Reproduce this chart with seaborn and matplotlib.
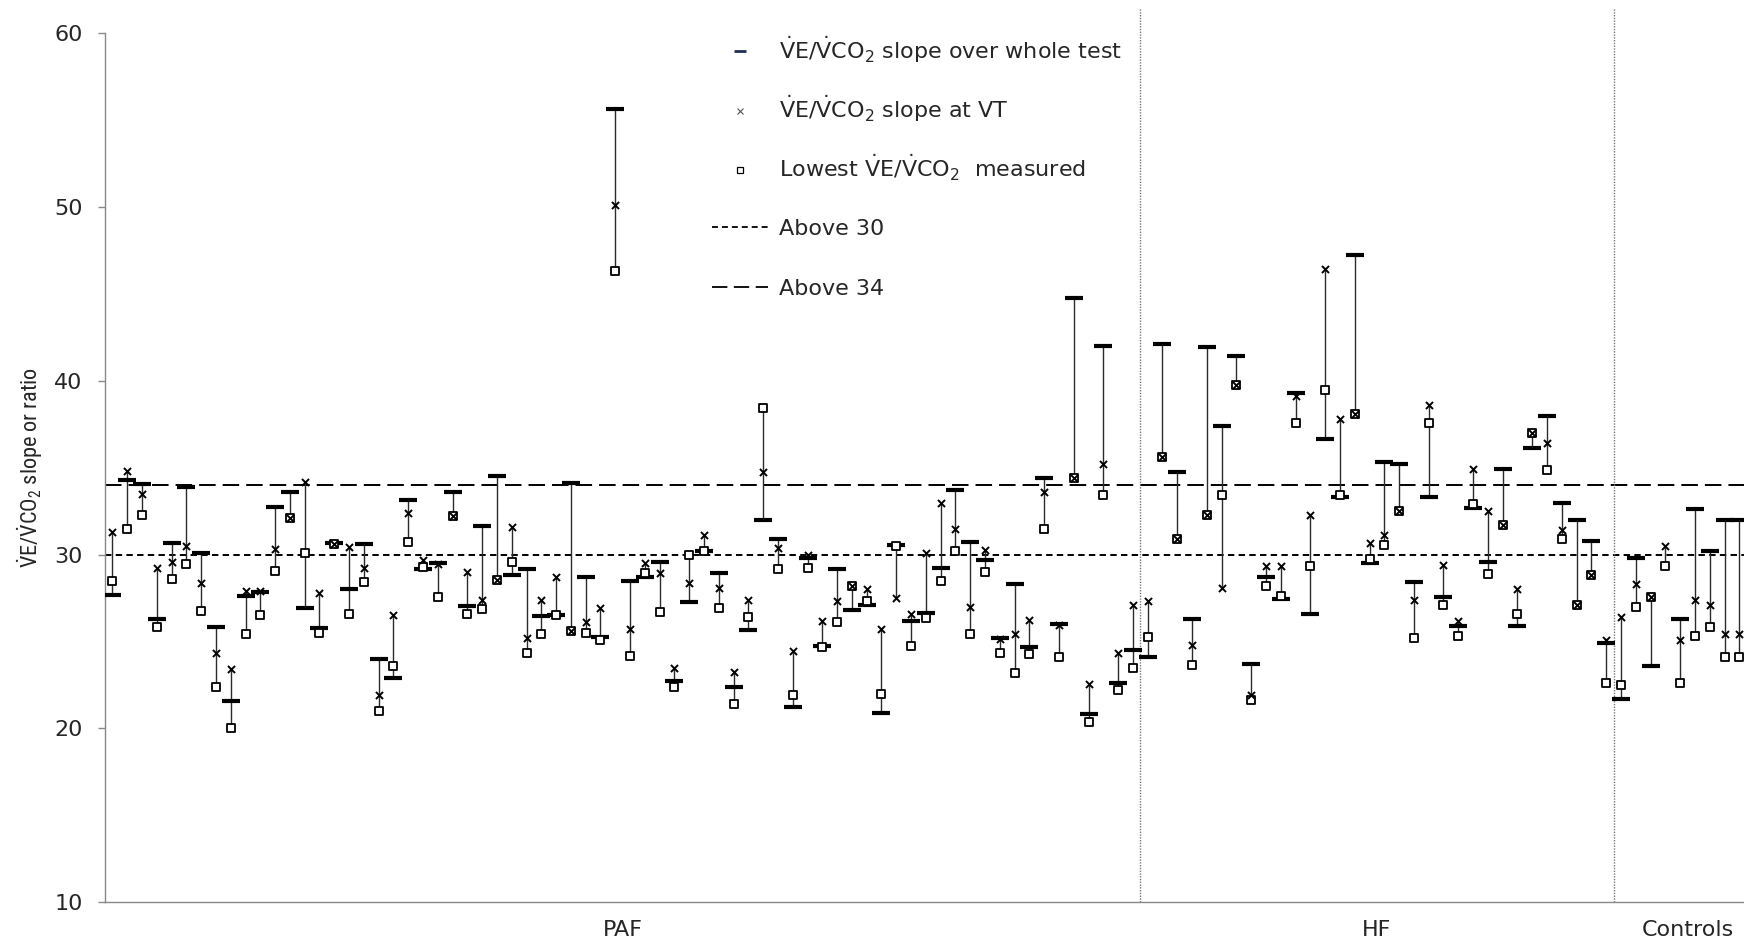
import numpy as np
import pandas as pd
import matplotlib
matplotlib.use('Agg')
import matplotlib.pyplot as plt
import seaborn as sns
from matplotlib.lines import Line2D
from matplotlib import font_manager as fm

# ---------------- data ----------------
groups = ['PAF', 'HF', 'Controls']
group_sizes = [70, 32, 10]

whole_test = [27.7, 34.3, 34.05, 26.3, 30.65, 33.9, 30.1, 25.85, 21.55, 27.6,
              27.85, 32.75, 33.6, 26.9, 25.75, 30.65, 28.0, 30.6, 24.0, 22.9,
              33.15, 29.15, 29.5, 33.6, 27.05, 31.65, 34.5, 28.8, 29.15, 26.45,
              26.5, 34.1, 28.7, 25.25, 55.65, 28.5, 28.7, 29.6, 22.75, 27.25,
              30.2, 28.95, 22.35, 25.65, 32.0, 30.9, 21.2, 29.8, 24.75, 29.15,
              26.8, 27.1, 20.9, 30.55, 26.2, 26.65, 29.25, 33.7, 30.7, 29.7,
              25.2, 28.3, 24.7, 34.4, 26.0, 44.75, 20.8, 42.0, 22.6, 24.5,
              24.1, 42.1, 34.75, 26.3, 41.95, 37.4, 41.45, 23.7, 28.7, 27.45,
              39.3, 26.6, 36.65, 33.3, 47.25, 29.5, 35.3, 35.2, 28.4, 33.3,
              27.55, 25.9, 32.7, 29.6, 34.9, 25.9, 36.15, 37.95, 32.95, 32.0,
              30.8, 24.9,
              21.7, 29.8, 23.6, np.nan, 26.3, 32.65, 30.2, 32.0, 32.0]

slope_vt = [31.3, 34.8, 33.5, 29.25, 29.6, 30.5, 28.35, 24.35, 23.4, 27.9,
            27.9, 30.3, 32.1, 34.2, 27.8, 30.6, 30.45, 29.2, 21.9, 26.5,
            32.4, 29.7, 29.45, 32.2, 29.0, 27.4, 28.55, 31.6, 25.2, 27.4,
            28.7, 25.6, 26.1, 26.9, 50.1, 25.7, 29.5, 28.95, 23.45, 28.35,
            31.1, 28.1, 23.25, 27.4, 34.75, 30.4, 24.45, 30.0, 26.15, 27.35,
            28.2, 28.0, 25.7, 27.5, 26.6, 30.1, 32.95, 31.5, 27.0, 30.25,
            25.15, 25.45, 26.25, 33.6, 25.95, 34.4, 22.55, 35.2, 24.35, 27.1,
            27.35, 35.6, 30.9, 24.8, 32.3, 28.1, 39.75, 21.9, 29.35, 29.35,
            39.1, 32.3, 46.45, 37.8, 38.1, 30.65, 31.1, 32.5, 27.4, 38.6,
            29.4, 26.2, 34.9, 32.5, 31.7, 28.0, 37.0, 36.45, 31.4, 27.1,
            28.85, 25.1,
            26.4, 28.3, 27.55, 30.5, 25.1, 27.4, 27.1, 25.4, 25.4]

lowest_ratio = [28.5, 31.45, 32.3, 25.85, 28.6, 29.45, 26.75, 22.4, 20.0, 25.45,
                26.5, 29.05, 32.1, 30.1, 25.5, 30.6, 26.55, 28.4, 21.0, 23.6,
                30.7, 29.3, 27.55, 32.2, 26.6, 26.85, 28.55, 29.6, 24.35, 25.4,
                26.5, 25.6, 25.5, 25.1, 46.35, 24.15, 28.95, 26.7, 22.35, 30.0,
                30.2, 26.9, 21.4, 26.4, 38.45, 29.15, 21.9, 29.25, 24.7, 26.1,
                28.2, 27.35, 22.0, 30.5, 24.75, 26.35, 28.5, 30.2, 25.45, 29.0,
                24.35, 23.2, 24.3, 31.5, 24.1, 34.4, 20.35, 33.4, 22.2, 23.45,
                25.25, 35.6, 30.9, 23.65, 32.3, 33.45, 39.75, 21.6, 28.2, 27.6,
                37.55, 29.35, 39.45, 33.45, 38.1, 29.75, 30.55, 32.5, 25.2, 37.6,
                27.1, 25.3, 32.9, 28.9, 31.7, 26.55, 37.0, 34.85, 30.9, 27.1,
                28.85, 22.6,
                22.5, 27.0, 27.55, 29.35, 22.6, 25.3, 25.85, 24.1, 24.1]

thresholds = [30, 34]
y_ticks = [10, 20, 30, 40, 50, 60]

VE = r'$\dot{\mathrm{V}}\mathrm{E}/\dot{\mathrm{V}}\mathrm{CO}_{2}$'
marker_labels = [VE + ' slope over whole test',
                 VE + ' slope at VT',
                 'Lowest ' + VE + '  measured']
line_labels = ['Above 30', 'Above 34']
y_label = r'$\dot{\mathrm{V}}$E/$\dot{\mathrm{V}}$CO$_2$ slope or ratio'

# ---------------- build table ----------------
n = len(whole_test)
df = pd.DataFrame({
    'subject': np.arange(n),
    'whole': whole_test,
    'vt': slope_vt,
    'lowest': lowest_ratio,
})
df['lo'] = df[['whole', 'vt', 'lowest']].min(axis=1)
df['hi'] = df[['whole', 'vt', 'lowest']].max(axis=1)

# ---------------- style ----------------
sns.set_theme(style='white')
plt.rcParams['font.family'] = ['DejaVu Sans']

label_font = 'Liberation Sans'
label_size = 14.5
for cand, size in [('Liberation Sans Narrow', 16.5), ('Roboto Condensed', 16),
                   ('Liberation Sans', 14.5)]:
    try:
        fm.findfont(fm.FontProperties(family=cand), fallback_to_default=False)
        label_font, label_size = cand, size
        break
    except Exception:
        continue
plt.rcParams['mathtext.fontset'] = 'custom'
plt.rcParams['mathtext.rm'] = label_font
plt.rcParams['mathtext.it'] = label_font + ':italic'
plt.rcParams['mathtext.bf'] = label_font + ':bold'

W, H = 1744, 942
fig = plt.figure(figsize=(W / 100, H / 100), dpi=100)
left_px = 105
px_per_cat = 14.79
ax = fig.add_axes([left_px / W, 40 / H, 1 - left_px / W, (902 - 33.4) / H])

# range lines
ax.vlines(df['subject'], df['lo'], df['hi'], color='#2b2b2b', lw=1.0, zorder=2)

# markers
sns.scatterplot(data=df, x='subject', y='whole', marker='_', s=150,
                color='black', linewidth=3.0, ax=ax, zorder=3, legend=False)
sns.scatterplot(data=df, x='subject', y='lowest', marker='s', s=26,
                color='white', edgecolor='black', linewidth=1.3, ax=ax,
                zorder=4, legend=False)
sns.scatterplot(data=df, x='subject', y='vt', marker='x', s=26,
                color='black', linewidth=1.4, ax=ax, zorder=5, legend=False)

# threshold lines
ax.axhline(thresholds[0], color='black', lw=1.4, dashes=(3.3, 2.2), zorder=1)
ax.axhline(thresholds[1], color='black', lw=1.4, dashes=(8.5, 3.6), zorder=1)

# group separators
bounds = np.cumsum(group_sizes)[:-1] - 0.5
for b in bounds:
    ax.axvline(b, ymin=0, ymax=1.028, color='#777777', lw=1.0,
               linestyle=(0, (1, 1)), clip_on=False, zorder=1)

# axes
ax.set_xlim(-0.5, -0.5 + (W - left_px) / px_per_cat)
ax.set_ylim(10, 60)
ax.set_yticks(y_ticks)
ax.tick_params(axis='y', which='major', direction='out', length=5, width=1,
               color='#888888', labelsize=16, pad=11, left=True)
starts = np.concatenate([[0], np.cumsum(group_sizes)[:-1]])
centers = starts + np.array(group_sizes) / 2 - 0.5
ax.set_xticks(centers)
ax.set_xticklabels(groups, fontsize=16)
ax.tick_params(axis='x', length=0, pad=13)
for s in ['top', 'right']:
    ax.spines[s].set_visible(False)
for s in ['left', 'bottom']:
    ax.spines[s].set_color('#888888')
    ax.spines[s].set_linewidth(1.0)
ax.set_xlabel('')
ax.set_ylabel(y_label, fontsize=label_size, family=label_font)
ax.yaxis.set_label_coords(45 / W, 1 - 467 / H, transform=fig.transFigure)

# legends
marker_handles = [
    Line2D([], [], marker='_', color='#1f2f55', linestyle='none',
           markersize=9, markeredgewidth=2),
    Line2D([], [], marker='x', color='#555555', linestyle='none',
           markersize=5, markeredgewidth=0.8),
    Line2D([], [], marker='s', color='black', markerfacecolor='white',
           linestyle='none', markersize=5, markeredgewidth=0.9),
]
line_handles = [
    Line2D([], [], color='black', lw=1.3, dashes=(3.3, 2.2)),
    Line2D([], [], color='black', lw=1.3, dashes=(8.5, 3.6)),
]
leg_prop = fm.FontProperties(family='DejaVu Sans', size=16,
                             math_fontfamily='dejavusans')
common = dict(loc='upper left', frameon=False, prop=leg_prop,
              handlelength=2.5, handletextpad=0.5,
              borderpad=0, borderaxespad=0)
fig.legend(marker_handles, marker_labels,
           bbox_to_anchor=(712 / W, 1 - 34 / H), labelspacing=1.28, **common)
fig.legend(line_handles, line_labels,
           bbox_to_anchor=(712 / W, 1 - 219 / H), labelspacing=1.8, **common)

fig.savefig('out.png', dpi=100)
